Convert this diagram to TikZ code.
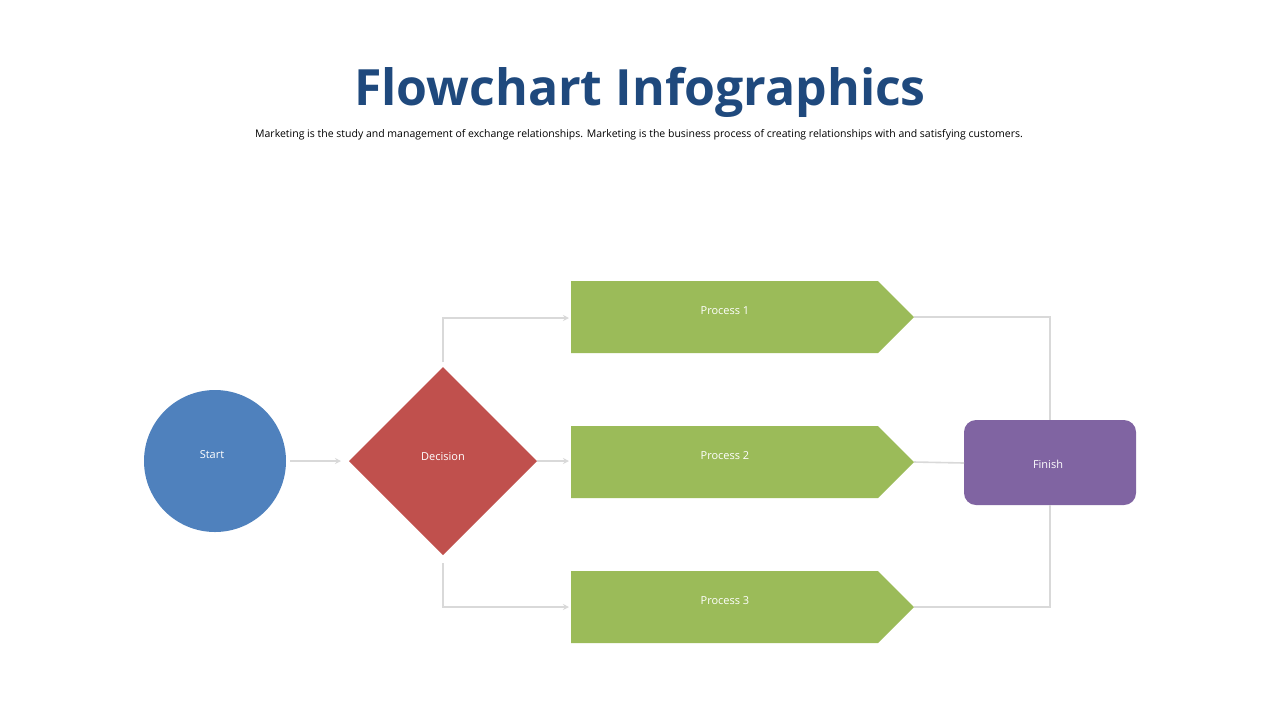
\documentclass[tikz,border=0pt]{standalone}
\usepackage{fontspec}
\setmainfont{Open Sans}
\usetikzlibrary{arrows.meta}
\definecolor{ttl}{HTML}{1F497D}
\definecolor{cblue}{HTML}{4F81BD}
\definecolor{cred}{HTML}{C0504D}
\definecolor{cgreen}{HTML}{9BBB59}
\definecolor{cpurp}{HTML}{8064A2}
\definecolor{cline}{HTML}{D9D9D9}
\begin{document}
\begin{tikzpicture}[x=0.5pt,y=-0.5pt,
  lbl/.style={text=white,font=\fontsize{5.5}{6}\selectfont},
  conn/.style={draw=cline,line width=0.8pt},
  arr/.style={conn,-{Stealth[length=3pt,width=3pt]}}]
\useasboundingbox (0,0) rectangle (1280,720);
\node[font=\bfseries\fontsize{25}{28}\selectfont,text=ttl] (title) at (640,92) {Flowchart Infographics};
\node[font=\fontsize{5.25}{6}\selectfont] (sub) at (639,135) {Marketing is the study and management of exchange relationships. Marketing is the business process of creating relationships with and satisfying customers.};
% shapes
\fill[cblue] (215,461) circle[radius=71];
\node[lbl] (start) at (212,455) {Start};
\coordinate (startE) at (290,461);
\fill[cred] (443,367) -- (537,461) -- (443,555) -- (349,461) -- cycle;
\node[lbl] (dec) at (443,457) {Decision};
\coordinate (decW) at (341,461);
\coordinate (decN) at (443,362);
\coordinate (decE) at (537,461);
\coordinate (decS) at (443,563);
\foreach \n/\y in {1/317,2/462,3/607}{
  \fill[cgreen] (571,\y-36) -- (878,\y-36) -- (914,\y) -- (878,\y+36) -- (571,\y+36) -- cycle;
  \node[lbl] (p\n) at (725,\y-6) {Process \n};
  \coordinate (p\n E) at (914,\y);
}
\coordinate (p1W) at (569,318);
\coordinate (p2W) at (569,461);
\coordinate (p3W) at (569,607);
\fill[cpurp,rounded corners=6pt] (964,420) rectangle (1136,505);
\node[lbl] (fin) at (1048,464) {Finish};
\coordinate (finN) at (1050,420);
\coordinate (finW) at (964,463);
\coordinate (finS) at (1050,505);
% connectors
\draw[arr] (startE) -- (decW);
\draw[arr] (decN) |- (p1W);
\draw[arr] (decE) -- (p2W);
\draw[arr] (decS) |- (p3W);
\draw[conn] (p1E) -| (finN);
\draw[conn] (p2E) -- (finW);
\draw[conn] (p3E) -| (finS);
\end{tikzpicture}
\end{document}
